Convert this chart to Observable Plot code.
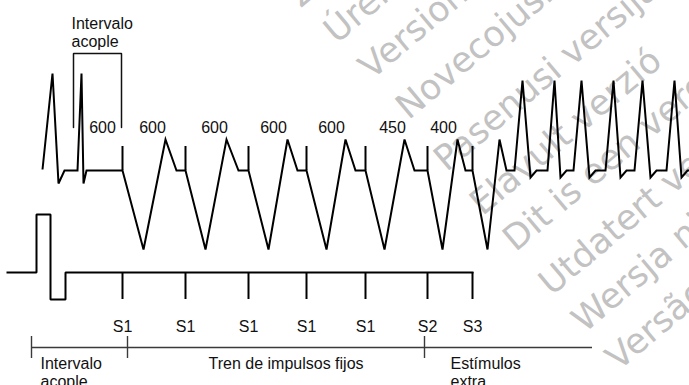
<!DOCTYPE html>
<html><head><meta charset="utf-8">
<script src="https://cdn.jsdelivr.net/npm/d3@7"></script>
<script src="https://cdn.jsdelivr.net/npm/@observablehq/plot@0.6"></script>
<style>html,body{margin:0;padding:0;background:#fff;}</style>
</head><body><div id="chart"></div>
<script>
// ---- data (time along x, signal level along y, picture units) ----
// ECG trace vertices
const ecgT = [42,52,58,64,77,81,83,86,122,
  143,165,176,185, 205,226,238,248, 268,287,297,306, 326,345,355,365,
  384,404,414,427, 442,457,465,472, 487,499,506,514,
  522,530,536,547, 554,560,566,573, 581,589,595,605, 613,620,626,634,
  642,650,656,666, 674,681,687,689];
const ecgV = [169,73,183,170,170,73,183,170,170,
  249,139,170,170, 249,139,170,170, 249,139,170,170, 249,139,170,170,
  249,139,170,170, 249,139,170,170, 249,139,170,170,
  80,177,170,170, 80,177,170,170, 80,177,170,170, 80,177,170,170,
  80,177,170,170, 80,177,170,170];
// stimuli
const stimT = [122,185,248,306,365,427,472];
const stimNames = ["S1","S1","S1","S1","S1","S2","S3"];
const artifactSpan = [146,170];
// interval labels (ms)
const intervalMs = ["600","600","600","600","600","450","400"];
const intervalLabelT = [102,152,214,273,331,392,443];
const intervalLabelV = 121.6;
// stimulator channel
const stimLineT = [7,36,36,50,50,65,65,472];
const stimLineV = [272,272,214,214,299,299,272,272];
const stimTickSpan = [272,299];
const stimLabelV = 320.6;
// coupling-interval bracket
const couplingT = [73,73,121,121];
const couplingV = [127,53,53,127];
const couplingLabel = "Intervalo\nacople";
const couplingLabelPos = [71,15.6];
// phase timeline
const phaseT = [31,127,424];
const phaseEndT = 592;
const phaseAxisV = 347;
const phaseTickSpan = [336,358];
const phaseNames = ["Intervalo\nacople","Tren de impulsos fijos","Estímulos\nextra"];
const phaseLabelT = [40,208,450];
const phaseLabelV = 355.6;
// watermark
const wmText = ["Zastaralá verze","Úrelt útgáfa","Version périmée","Novecojusi versija","Pasenusi versija",
  "Elavult verzió","Dit is een verouderde versie","Utdatert versjon","Wersja nieaktualna","Versão obsoleta"];
const wmT = [300, 336, 371, 408, 446, 482, 515, 551, 584, 618];
const wmV = [8, 44, 80, 120, 172, 216, 252, 296, 333, 371];

// ---- build tables ----
const ecg = ecgT.map((t, i) => ({t, v: ecgV[i]}));
const stimLine = stimLineT.map((t, i) => ({t, v: stimLineV[i]}));
const bracket = couplingT.map((t, i) => ({t, v: couplingV[i]}));
const intervals = intervalMs.map((s, i) => ({t: intervalLabelT[i], s}));
const stims = stimT.map((t, i) => ({t, s: stimNames[i]}));
const phases = phaseNames.map((s, i) => ({t: phaseLabelT[i], s}));
const wm = wmText.map((s, i) => ({t: wmT[i], v: wmV[i], s}));
const font = "Liberation Sans, Arial, Helvetica, sans-serif";

const chart = Plot.plot({
  width: 689, height: 385,
  margin: 0,
  x: {domain: [0, 689], range: [0, 689], axis: null},
  y: {domain: [0, 385], range: [0, 385], axis: null},
  style: {background: "#fff", fontFamily: font, overflow: "visible"},
  marks: [
    Plot.text(wm, {x: "t", y: "v", text: "s", rotate: -40, textAnchor: "start", lineAnchor: "bottom",
      fill: "#c2c2c2", fontSize: 35, fontFamily: "DejaVu Sans"}),
    // phase timeline
    Plot.ruleY([phaseAxisV], {x1: phaseT[0], x2: phaseEndT, stroke: "#3a3a3a", strokeWidth: 1.4}),
    Plot.ruleX(phaseT, {x: d => d, y1: phaseTickSpan[0], y2: phaseTickSpan[1], stroke: "#3a3a3a", strokeWidth: 1.4}),
    Plot.text(phases, {x: "t", y: phaseLabelV, text: "s", textAnchor: "start", lineAnchor: "top",
      lineHeight: 1.125, fontSize: 16, fill: "#111"}),
    // stimulator channel
    Plot.line(stimLine, {x: "t", y: "v", stroke: "#000", strokeWidth: 2, strokeLinejoin: "miter", strokeLinecap: "square"}),
    Plot.ruleX(stimT, {x: d => d, y1: stimTickSpan[0], y2: stimTickSpan[1], stroke: "#000", strokeWidth: 2}),
    Plot.text(stims, {x: "t", y: stimLabelV, text: "s", textAnchor: "middle", lineAnchor: "top", fontSize: 16, fill: "#111"}),
    // ECG
    Plot.line(ecg, {x: "t", y: "v", stroke: "#000", strokeWidth: 2, strokeLinejoin: "miter", strokeMiterlimit: 4, strokeLinecap: "butt"}),
    Plot.ruleX(stimT, {x: d => d, y1: artifactSpan[0], y2: artifactSpan[1], stroke: "#000", strokeWidth: 2}),
    Plot.text(intervals, {x: "t", y: intervalLabelV, text: "s", textAnchor: "middle", lineAnchor: "top", fontSize: 16, fill: "#111"}),
    // coupling bracket
    Plot.line(bracket, {x: "t", y: "v", stroke: "#111", strokeWidth: 1.5, strokeLinejoin: "miter"}),
    Plot.text([couplingLabel], {x: couplingLabelPos[0], y: couplingLabelPos[1], text: d => d, textAnchor: "start",
      lineAnchor: "top", lineHeight: 1.125, fontSize: 16, fill: "#111"})
  ]
});
document.getElementById("chart").appendChild(chart);
</script>
</body></html>
